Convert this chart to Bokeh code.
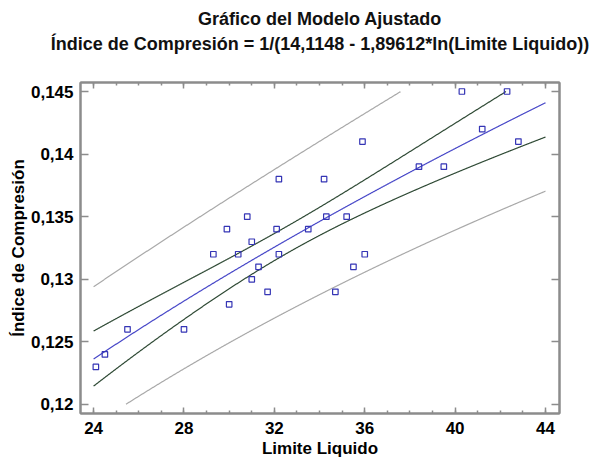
import numpy as np
from bokeh.plotting import figure
from bokeh.models import Range1d, FixedTicker, LinearAxis, Title, ColumnDataSource
from bokeh.embed import file_html
from bokeh.resources import INLINE

# Observed data: liquid limit vs. compression index
limite_liquido = [24.1, 24.5, 25.5, 28.0, 29.3, 29.9, 30.0, 30.4, 30.8, 31.0,
                  31.0, 31.3, 31.7, 32.1, 32.2, 32.2, 33.5, 34.2, 34.3, 34.7,
                  35.2, 35.5, 35.9, 36.0, 38.4, 39.5, 40.3, 41.2, 42.3, 42.8]
indice_compresion = [0.123, 0.124, 0.126, 0.126, 0.132, 0.134, 0.128, 0.132, 0.135, 0.133,
                     0.130, 0.131, 0.129, 0.134, 0.138, 0.132, 0.134, 0.138, 0.135, 0.129,
                     0.135, 0.131, 0.141, 0.132, 0.139, 0.139, 0.145, 0.142, 0.145, 0.141]

# Fitted model: Y = 1/(a - b*ln(X))
coef_a = 14.1148
coef_b = 1.89612
t_95_df28 = 2.0484  # two-sided 95% Student t quantile, n-2 = 28 df

x_ticks = [24, 28, 32, 36, 40, 44]
x_minor_ticks = list(range(23, 46))
y_ticks = [0.12, 0.125, 0.13, 0.135, 0.14, 0.145]
y_tick_labels = ["0,12", "0,125", "0,13", "0,135", "0,14", "0,145"]
y_clip = (0.12, 0.145)

# Regression statistics in the transformed metric 1/Y vs ln(X)
x = np.array(limite_liquido)
y = np.array(indice_compresion)
n = len(x)
lx = np.log(x)
inv = 1.0 / y
resid = inv - (coef_a - coef_b * lx)
s = np.sqrt(np.sum(resid ** 2) / (n - 2))
lx_mean = lx.mean()
sxx = np.sum((lx - lx_mean) ** 2)

grid = np.linspace(24, 44, 1201)
lg = np.log(grid)
fit_inv = coef_a - coef_b * lg
se_mean = s * np.sqrt(1.0 / n + (lg - lx_mean) ** 2 / sxx)
se_pred = s * np.sqrt(1.0 + 1.0 / n + (lg - lx_mean) ** 2 / sxx)


def clip(v):
    return np.where((v >= y_clip[0]) & (v <= y_clip[1]), v, np.nan)


curves = ColumnDataSource(dict(
    x=grid,
    fit=clip(1.0 / fit_inv),
    conf_hi=clip(1.0 / (fit_inv - t_95_df28 * se_mean)),
    conf_lo=clip(1.0 / (fit_inv + t_95_df28 * se_mean)),
    pred_hi=clip(1.0 / (fit_inv - t_95_df28 * se_pred)),
    pred_lo=clip(1.0 / (fit_inv + t_95_df28 * se_pred)),
))
points = ColumnDataSource(dict(x=limite_liquido, y=indice_compresion))

FONT = "Liberation Sans"
FRAME = "#8c8c8c"

p = figure(width=592, height=464, title=None, output_backend="svg",
           toolbar_location=None, x_axis_location=None, y_axis_location=None,
           x_range=Range1d(23.42, 44.62), y_range=Range1d(0.11928, 0.14572),
           min_border_left=80, min_border_right=33, min_border_top=82,
           min_border_bottom=51)
p.grid.visible = False
p.outline_line_color = FRAME
p.outline_line_width = 2
p.background_fill_color = "white"
p.border_fill_color = "white"


def style_axis(ax, ticker, show_labels):
    ax.ticker = ticker
    ax.axis_line_color = FRAME
    ax.axis_line_width = 2
    ax.major_tick_line_color = FRAME
    ax.minor_tick_line_color = FRAME
    ax.major_tick_line_width = 1.5
    ax.minor_tick_line_width = 1.5
    ax.major_tick_out = 0
    ax.minor_tick_out = 0
    ax.minor_tick_in = 3
    if show_labels:
        ax.major_label_text_font = FONT
        ax.major_label_text_font_size = "17px"
        ax.major_label_text_font_style = "bold"
        ax.major_label_text_color = "black"
        ax.axis_label_text_font = FONT
        ax.axis_label_text_font_size = "17px"
        ax.axis_label_text_font_style = "bold"
        ax.axis_label_text_color = "black"
    else:
        ax.major_label_text_font_size = "0px"
        ax.major_label_text_alpha = 0
        ax.major_label_standoff = 0


xt = FixedTicker(ticks=x_ticks, minor_ticks=x_minor_ticks)
yt = FixedTicker(ticks=y_ticks, minor_ticks=[])

bottom = LinearAxis(axis_label="Limite Liquido")
style_axis(bottom, xt, True)
bottom.major_tick_in = 6
bottom.major_label_standoff = 8
bottom.axis_label_standoff = 2
p.add_layout(bottom, "below")

left = LinearAxis(axis_label="Índice de Compresión")
style_axis(left, yt, True)
left.major_tick_in = 8
left.major_label_standoff = 7
left.axis_label_standoff = 0
left.major_label_overrides = dict(zip(y_ticks, y_tick_labels))
p.add_layout(left, "left")

top = LinearAxis()
style_axis(top, xt, False)
top.major_tick_in = 6
p.add_layout(top, "above")

right = LinearAxis()
style_axis(right, yt, False)
right.major_tick_in = 8
p.add_layout(right, "right")

# Gap between the frame and the two-line title
p.add_layout(Title(text=" ", text_font_size="1px", standoff=24), "above")

title_line2 = "Índice de Compresión = 1/({:.4f} - {:.5f}*ln(Limite Liquido))".format(
    coef_a, coef_b).replace(".", ",")
for text, standoff in [(title_line2, 4), ("Gráfico del Modelo Ajustado", 2)]:
    p.add_layout(Title(text=text, align="center", text_font=FONT,
                       text_font_size="18px", text_font_style="bold",
                       text_color="#111111", standoff=standoff), "above")

# Prediction limits, confidence limits, fitted curve, observations
p.line("x", "pred_hi", source=curves, line_color="#a9a9a9", line_width=1.2)
p.line("x", "pred_lo", source=curves, line_color="#a9a9a9", line_width=1.2)
p.line("x", "conf_hi", source=curves, line_color="#2f4a35", line_width=1.2)
p.line("x", "conf_lo", source=curves, line_color="#2f4a35", line_width=1.2)
p.line("x", "fit", source=curves, line_color="#4848c8", line_width=1.2)
p.scatter("x", "y", source=points, marker="square", size=5.5,
          fill_color=None, line_color="#3535b5", line_width=1.2)

open("out.html", "w").write(file_html(p, INLINE))
